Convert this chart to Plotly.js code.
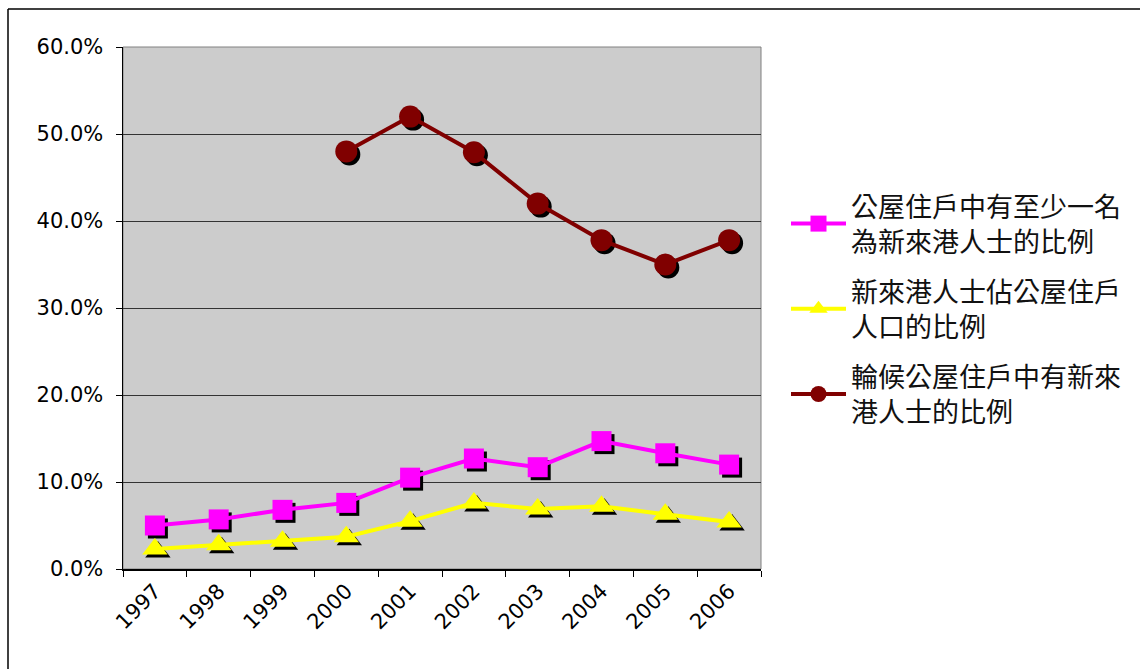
<!DOCTYPE html>
<html>
<head>
<meta charset="utf-8">
<script src="https://cdn.plot.ly/plotly-3.0.1.min.js"></script>
<style>html,body{margin:0;padding:0;background:#fff;}#chart{width:1140px;height:669px;}</style>
</head>
<body>
<div id="chart"></div>
<script>
const years = ['1997','1998','1999','2000','2001','2002','2003','2004','2005','2006'];
const seriesNames = [
  '公屋住戶中有至少一名<br>為新來港人士的比例',
  '新來港人士佔公屋住戶<br>人口的比例',
  '輪候公屋住戶中有新來<br>港人士的比例'
];
const householdsWithNewArrival = [0.050, 0.057, 0.068, 0.076, 0.105, 0.127, 0.117, 0.147, 0.133, 0.120];
const newArrivalPopulationShare = [0.023, 0.028, 0.032, 0.037, 0.055, 0.076, 0.069, 0.072, 0.063, 0.054];
const waitingListWithNewArrival = [null, null, null, 0.480, 0.520, 0.479, 0.420, 0.378, 0.350, 0.378];
const yTicks = [0, 0.1, 0.2, 0.3, 0.4, 0.5, 0.6];

const W = 1140, H = 669;
const px = v => v / W, py = v => v / H;
const xDom = [px(123), px(761)];
const yDom = [py(100), py(622)];
const sh = 3;
const xDomS = [px(123 + sh), px(761 + sh)];
const yDomS = [py(100 - sh), py(622 - sh)];

const colors = ['#FF00FF', '#FFFF00', '#800000'];
const symbols = ['square', 'triangle-up', 'circle'];
const sizes = [20, 22, 22];
const values = [householdsWithNewArrival, newArrivalPopulationShare, waitingListWithNewArrival];

const traces = [];
// base subplot carrying axes / grid (transparent copy of a series)
traces.push({
  x: years, y: householdsWithNewArrival, type: 'scatter', mode: 'lines',
  xaxis: 'x', yaxis: 'y', opacity: 0, showlegend: false, hoverinfo: 'skip'
});
// shadows
values.forEach((v, i) => {
  traces.push({
    x: years, y: v, type: 'scatter', mode: 'markers', xaxis: 'x2', yaxis: 'y2',
    marker: {symbol: symbols[i], size: sizes[i], color: '#000'},
    showlegend: false, hoverinfo: 'skip', cliponaxis: false
  });
});
// main
values.forEach((v, i) => {
  traces.push({
    x: years, y: v, type: 'scatter', mode: 'lines+markers', xaxis: 'x3', yaxis: 'y3',
    name: seriesNames[i], legendgroup: 'g' + i,
    line: {color: colors[i], width: 4},
    marker: {symbol: symbols[i], size: sizes[i], color: colors[i], line: {width: 0}},
    connectgaps: false, cliponaxis: false
  });
});

const catRange = [-0.5, 9.5];
const yRange = [0, 0.6];
const tickFont = {family: 'DejaVu Sans, Verdana, sans-serif', size: 21, color: '#000'};

const hiddenX = d => ({domain: d, range: catRange, type: 'category', categoryarray: years, visible: false, fixedrange: true});
const hiddenY = d => ({domain: d, range: yRange, visible: false, fixedrange: true});

const layout = {
  width: W, height: H,
  margin: {l: 0, r: 0, t: 0, b: 0},
  paper_bgcolor: '#fff',
  plot_bgcolor: 'rgba(0,0,0,0)',
  showlegend: true,
  xaxis: {
    domain: xDom, range: catRange, type: 'category', categoryarray: years,
    tickson: 'boundaries', ticks: 'outside', ticklen: 6, tickcolor: '#000', tickwidth: 1,
    showline: true, linecolor: '#000', linewidth: 1.5,
    showgrid: false, tickangle: -45, tickfont: tickFont, fixedrange: true
  },
  yaxis: {
    domain: yDom, range: yRange, tickvals: yTicks, tickformat: '.1%',
    ticks: 'outside', ticklen: 6, tickcolor: '#000', tickwidth: 1,
    showline: true, linecolor: '#000', linewidth: 1.5,
    showgrid: true, gridcolor: '#333333', gridwidth: 1,
    zeroline: false, tickfont: tickFont, ticklabelstandoff: 8, fixedrange: true
  },
  xaxis2: hiddenX(xDomS), yaxis2: hiddenY(yDomS),
  xaxis3: hiddenX(xDom), yaxis3: hiddenY(yDom),
  legend: {
    x: px(786), y: 1 - py(182), xanchor: 'left', yanchor: 'top',
    font: {family: 'Noto Sans CJK TC, sans-serif', size: 27, color: '#111'},
    bgcolor: 'rgba(0,0,0,0)', tracegroupgap: 12, itemwidth: 55, traceorder: 'grouped'
  },
  shapes: [
    {type: 'rect', xref: 'paper', yref: 'paper', x0: xDom[0], x1: xDom[1], y0: yDom[0], y1: yDom[1],
     fillcolor: '#cccccc', line: {color: '#808080', width: 1}, layer: 'below'},
    {type: 'line', xref: 'paper', yref: 'paper', x0: px(8), x1: px(8), y0: 0, y1: 1 - py(9),
     line: {color: '#000', width: 1.5}},
    {type: 'line', xref: 'paper', yref: 'paper', x0: px(8), x1: 1, y0: 1 - py(9), y1: 1 - py(9),
     line: {color: '#000', width: 1.5}}
  ]
};

Plotly.newPlot('chart', traces, layout, {staticPlot: true, displayModeBar: false});
</script>
</body>
</html>
